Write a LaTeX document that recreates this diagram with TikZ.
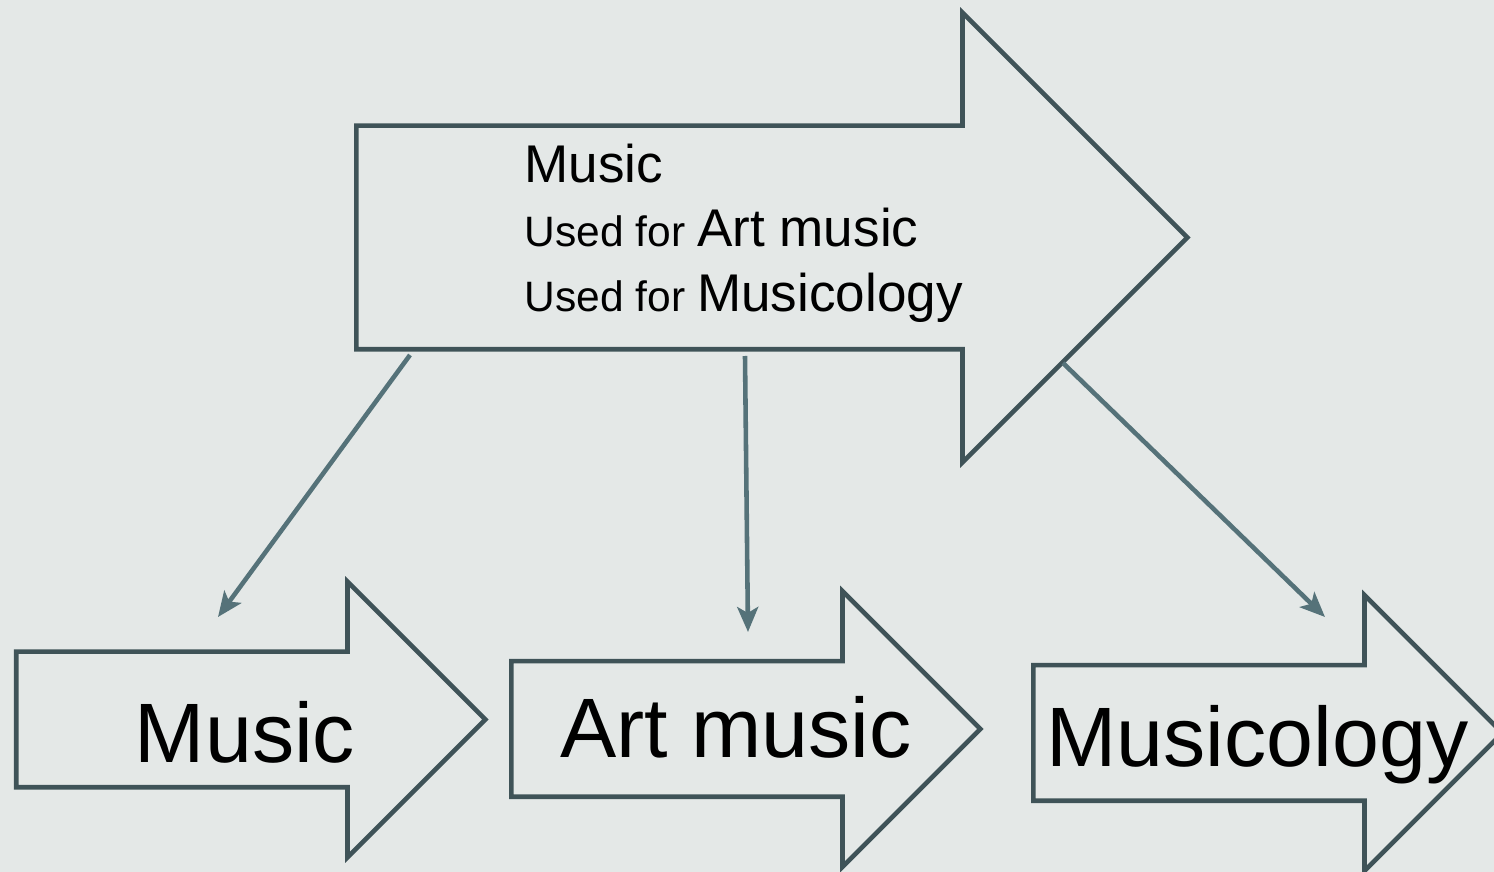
\documentclass[tikz,border=0pt]{standalone}
\usepackage{fontspec}
\setmainfont{Liberation Sans}
\usepackage{xcolor}
\usetikzlibrary{shapes.arrows,arrows.meta}

\definecolor{bgcol}{HTML}{E4E8E7}
\definecolor{edgecol}{HTML}{3F5358}
\definecolor{linkcol}{HTML}{557279}
\newcommand{\termfont}{\fontsize{15.1}{18}\selectfont}

\begin{document}
\begin{tikzpicture}[
        bigarrow/.style={single arrow, draw=edgecol, line width=1.3pt, anchor=tail,
            inner xsep=0pt, inner ysep=1.095cm, single arrow head extend=1.13cm, minimum height=8.31cm},
        smallarrow/.style={single arrow, draw=edgecol, line width=1.3pt, anchor=tail,
            inner xsep=0pt, inner ysep=0.655cm, single arrow head extend=0.70cm, minimum height=4.69cm},
        bigtext/.style={font=\fontsize{24}{28}\selectfont, inner sep=0pt, anchor=base},
        line/.style={font=\fontsize{12.1}{15}\selectfont, inner sep=0pt, anchor=base west},
        arrow/.style={-{Stealth[length=2.5mm, width=2.1mm, inset=0.6mm]}, line width=1.3pt, draw=linkcol, fill=linkcol}
    ]
        % Background
        \fill[bgcol] (0,0) rectangle (14.94,-8.72);
        \useasboundingbox (0,0) rectangle (14.94,-8.72);

        % Arrows
        \node[bigarrow] (term) at (3.54,-2.375) {};
        \node[smallarrow] (music) at (0.14,-7.195) {};
        \node[smallarrow] (art) at (5.09,-7.29) {};
        \node[smallarrow] (ology) at (10.31,-7.33) {};

        % Texts
        \node[line] (lineA) at (5.24,-1.83) {\termfont Music};
        \node[line] (lineB) at (5.24,-2.47) {Used for {\termfont Art music}};
        \node[line] (lineC) at (5.24,-3.12) {Used for {\termfont Musicology}};
        \node[bigtext] (musicT) at (2.45,-7.63) {Music};
        \node[bigtext] (artT) at (7.36,-7.57) {Art music};
        \node[bigtext] (ologyT) at (12.575,-7.66) {Musicology};

        % Links
        \draw[arrow] ([shift={(0.56,-1.175)}]term.tail) -- ([shift={(2.04,1.025)}]music.tail);
        \draw[arrow] ([shift={(3.91,-1.185)}]term.tail) -- ([shift={(2.39,0.97)}]art.tail);
        \draw[arrow] ([shift={(7.09,-1.255)}]term.tail) -- ([shift={(2.94,1.16)}]ology.tail);

    \end{tikzpicture}
\end{document}
